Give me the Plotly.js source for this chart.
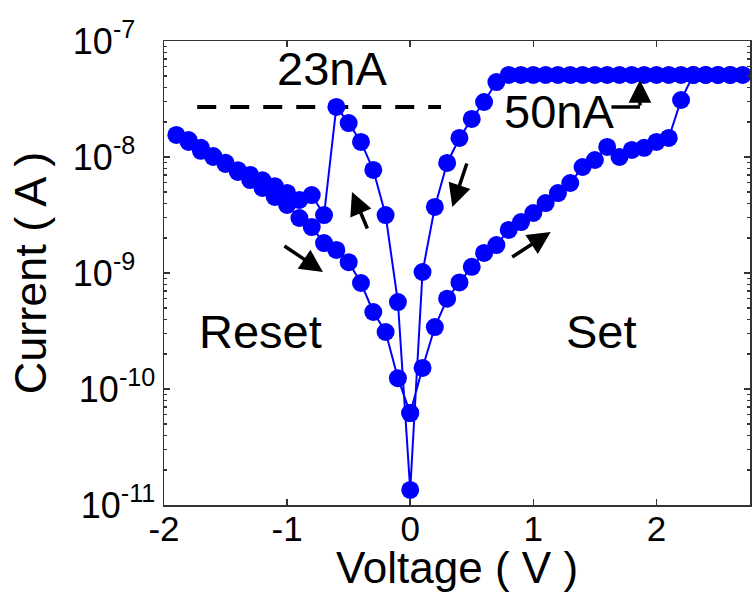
<!DOCTYPE html>
<html>
<head>
<meta charset="utf-8">
<script src="https://cdn.plot.ly/plotly-3.0.1.min.js"></script>
<style>
  html, body { margin: 0; padding: 0; background: #fff; }
  #chart { width: 752px; height: 592px; }
</style>
</head>
<body>
<div id="chart"></div>
<script>
// ---- Data (Voltage in V, Current in A) ----
// Set sweep, forward (0 -> +2.7 V)
const setFwdV = [0, 0.1, 0.2, 0.3, 0.4, 0.5, 0.6, 0.7, 0.8, 0.9, 1.0, 1.1, 1.2, 1.3, 1.4, 1.5, 1.6, 1.7, 1.8, 1.9, 2.0, 2.1, 2.2, 2.3, 2.4, 2.5, 2.6, 2.7];
const setFwdI = [6.2e-11, 1.52e-10, 3.42e-10, 6.0e-10, 8.3e-10, 1.13e-9, 1.49e-9, 1.74e-9, 2.35e-9, 2.75e-9, 3.29e-9, 4.01e-9, 4.89e-9, 5.97e-9, 8.2e-9, 9.42e-9, 1.22e-8, 1.0e-8, 1.15e-8, 1.2e-8, 1.35e-8, 1.46e-8, 3.1e-8, 5.1e-8, 5.1e-8, 5.1e-8, 5.1e-8, 5.1e-8];
// Set sweep, return (+2.6 -> 0 V)
const setRetV = [2.6, 2.5, 2.4, 2.3, 2.2, 2.1, 2.0, 1.9, 1.8, 1.7, 1.6, 1.5, 1.4, 1.3, 1.2, 1.1, 1.0, 0.9, 0.8, 0.7, 0.6, 0.5, 0.4, 0.3, 0.2, 0.1, 0.0];
const setRetI = [5.1e-8, 5.1e-8, 5.1e-8, 5.1e-8, 5.1e-8, 5.1e-8, 5.1e-8, 5.1e-8, 5.1e-8, 5.1e-8, 5.1e-8, 5.1e-8, 5.1e-8, 5.1e-8, 5.1e-8, 5.1e-8, 5.1e-8, 5.1e-8, 5.1e-8, 4.43e-8, 2.98e-8, 2.13e-8, 1.46e-8, 8.88e-9, 3.71e-9, 1.02e-9, 1.35e-11];
// Reset sweep, forward (-0.1 -> -1.9 V)
const resetFwdV = [-0.1, -0.2, -0.3, -0.4, -0.5, -0.6, -0.7, -0.8, -0.9, -1.0, -1.1, -1.2, -1.3, -1.4, -1.5, -1.6, -1.7, -1.8, -1.9];
const resetFwdI = [5.62e-10, 3.16e-9, 7.73e-9, 1.35e-8, 1.96e-8, 2.70e-8, 3.16e-9, 4.70e-9, 4.26e-9, 4.9e-9, 5.6e-9, 6.3e-9, 7.0e-9, 7.7e-9, 8.9e-9, 1.0e-8, 1.13e-8, 1.35e-8, 1.55e-8];
// Reset sweep, return (-1.8 -> 0 V)
const resetRetV = [-1.8, -1.7, -1.6, -1.5, -1.4, -1.3, -1.2, -1.1, -1.0, -0.9, -0.8, -0.7, -0.6, -0.5, -0.4, -0.3, -0.2, -0.1, 0.0];
const resetRetI = [1.40e-8, 1.20e-8, 1.02e-8, 8.71e-9, 7.43e-9, 6.33e-9, 5.41e-9, 4.52e-9, 3.86e-9, 2.98e-9, 2.49e-9, 1.81e-9, 1.58e-9, 1.24e-9, 8.2e-10, 4.61e-10, 3.10e-10, 1.24e-10, 6.2e-11];

// Reset current level (dashed line)
const resetLevelV = [-1.73, 0.25];
const resetLevelI = [2.7e-8, 2.7e-8];

// Axis ticks
const xTickVals = [-2, -1, 0, 1, 2];
const xTickText = ['-2', '-1', '0', '1', '2'];
const yTickVals = [1e-11, 1e-10, 1e-9, 1e-8, 1e-7];
const yTickText = ['10<sup>-11</sup>', '10<sup>-10</sup>', '10<sup>-9</sup>\u00a0\u00a0', '10<sup>-8</sup>\u00a0\u00a0', '10<sup>-7</sup>\u00a0\u00a0'];

// minor ticks (2..9 per decade)
const yMinor = [];
for (let e = -11; e < -7; e++) {
  for (let m = 2; m <= 9; m++) yMinor.push(m * Math.pow(10, e));
}

const V = setFwdV.concat(setRetV, resetFwdV, resetRetV);
const I = setFwdI.concat(setRetI, resetFwdI, resetRetI);

const FONT = 'Liberation Sans, Arial, Helvetica, sans-serif';
const BLUE = '#0000ff';

const traces = [
  {
    x: resetLevelV, y: resetLevelI, type: 'scatter', mode: 'lines',
    line: { color: '#000', width: 4, dash: '19px,14px' },
    hoverinfo: 'skip', showlegend: false
  },
  {
    x: V, y: I, type: 'scatter', mode: 'lines+markers',
    line: { color: BLUE, width: 2 },
    marker: { color: BLUE, size: 18, symbol: 'circle' },
    showlegend: false
  }
];

function arrow(x, ylog, ax, ay) {
  return {
    xref: 'x', yref: 'y', x: x, y: ylog, ax: ax, ay: ay,
    axref: 'pixel', ayref: 'pixel',
    text: '', showarrow: true, arrowhead: 2, arrowsize: 1.3,
    arrowwidth: 3.5, arrowcolor: '#000', standoff: 0
  };
}
function label(txt, x, ylog) {
  return {
    xref: 'x', yref: 'y', x: x, y: ylog, text: txt, showarrow: false,
    font: { family: FONT, size: 47, color: '#000' },
    xanchor: 'center', yanchor: 'middle'
  };
}

const layout = {
  width: 752, height: 592,
  margin: { l: 164, r: 2, t: 41, b: 87 },
  paper_bgcolor: '#fff', plot_bgcolor: '#fff',
  font: { family: FONT, color: '#000' },
  showlegend: false,
  xaxis: {
    range: [-2, 2.76],
    tickmode: 'array', tickvals: xTickVals, ticktext: xTickText,
    ticks: 'inside', ticklen: 6, tickwidth: 1.5, tickcolor: '#333',
    ticklabelstandoff: -8,
    showline: true, linecolor: '#333', linewidth: 1.5, mirror: 'ticks',
    showgrid: false, zeroline: false,
    tickfont: { family: FONT, size: 35, color: '#000' },
    title: { text: 'Voltage ( V )', font: { family: FONT, size: 44, color: '#000' }, standoff: 14 }
  },
  yaxis: {
    type: 'log', range: [-11, -7],
    tickmode: 'array', tickvals: yTickVals, ticktext: yTickText,
    ticks: 'inside', ticklen: 6, tickwidth: 1.5, tickcolor: '#333',
    minor: { tickvals: yMinor, ticks: 'inside', ticklen: 3, tickwidth: 1.2, tickcolor: '#333' },
    showline: true, linecolor: '#333', linewidth: 1.5, mirror: 'ticks',
    showgrid: false, zeroline: false,
    tickfont: { family: FONT, size: 36, color: '#000' },
    title: { text: 'Current ( A )\u00a0\u00a0\u00a0', font: { family: FONT, size: 45, color: '#000' }, standoff: 12 }
  },
  annotations: [
    label('23nA', -0.636, -7.241),
    label('50nA', 1.206, -7.612),
    label('Reset', -1.214, -9.5),
    label('Set', 1.557, -9.5),
    arrow(-0.709, -8.991, -40, -27),
    arrow(-0.473, -8.302, 16, 38),
    arrow(0.342, -8.431, 15, -45),
    arrow(1.141, -8.647, -40, 26),
    // bent arrow from "50nA" up to the compliance level
    arrow(1.866, -7.336, 0, 27),
    {
      xref: 'x', yref: 'y', x: 1.866, y: -7.569, ax: -30, ay: 0,
      text: '', showarrow: true, arrowhead: 0, arrowwidth: 3.5,
      arrowcolor: '#000', standoff: 0
    }
  ]
};

Plotly.newPlot('chart', traces, layout, { displayModeBar: false, staticPlot: true });
</script>
</body>
</html>
